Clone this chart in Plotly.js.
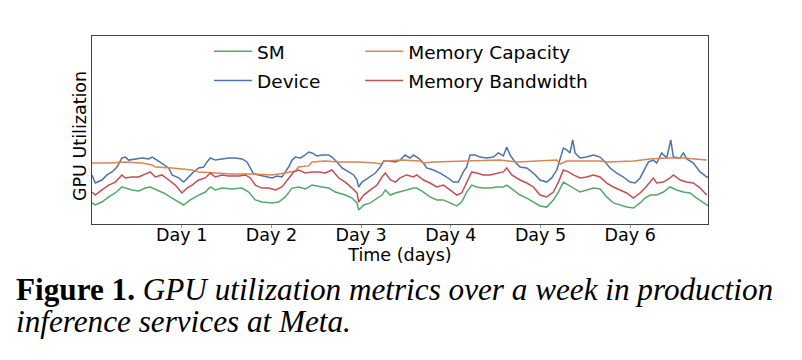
<!DOCTYPE html>
<html>
<head>
<meta charset="utf-8">
<script src="https://cdn.plot.ly/plotly-3.0.1.min.js"></script>
<style>html,body{margin:0;padding:0;background:#fff;}#chart{width:802px;height:360px;}</style>
</head>
<body>
<div id="chart"></div>
<script>
// ---- data (x in days, y in % utilization) ----
var dayTicks = [1, 2, 3, 4, 5, 6];
var dayLabels = ['Day 1', 'Day 2', 'Day 3', 'Day 4', 'Day 5', 'Day 6'];

var deviceX = [0,0.037,0.111,0.167,0.223,0.279,0.334,0.372,0.409,0.483,0.557,0.632,0.669,0.725,0.780,0.855,0.892,0.966,1.022,1.078,1.133,1.189,1.245,1.282,1.319,1.375,1.449,1.524,1.598,1.672,1.728,1.765,1.802,1.858,1.932,2.007,2.062,2.118,2.155,2.192,2.230,2.267,2.323,2.378,2.415,2.453,2.508,2.564,2.638,2.676,2.731,2.787,2.861,2.917,2.954,2.973,3.010,3.084,3.159,3.214,3.252,3.307,3.382,
3.434,3.490,3.545,3.583,3.638,3.694,3.731,3.806,3.880,3.954,4.029,4.084,4.140,4.177,4.214,4.270,4.326,4.400,4.475,4.530,4.586,4.623,4.660,4.716,4.772,4.846,4.920,4.995,5.069,5.125,5.181,5.218,5.255,5.292,5.329,5.359,5.385,5.441,5.515,5.590,5.664,5.720,5.775,5.850,5.924,5.998,6.054,6.110,6.165,6.203,6.258,6.295,6.351,6.407,6.452,6.481,6.556,6.593,6.630,6.704,6.779,6.853,6.890];
var deviceY = [26.1,21.8,23.4,26.1,27.7,30.3,35.1,35.6,34.0,34.6,35.1,34.6,35.6,34.0,32.4,29.8,26.1,24.5,22.3,25.0,27.7,29.8,30.3,33.0,35.1,34.0,34.6,35.1,35.1,34.6,33.0,29.8,26.6,26.1,25.5,24.5,25.5,25.0,27.7,30.3,34.0,35.6,35.1,36.7,38.3,37.8,36.2,36.7,36.7,35.6,33.0,29.8,27.7,26.1,23.4,19.7,22.3,24.5,27.1,30.3,33.5,33.5,33.0,
34.0,36.7,35.1,36.7,35.1,32.4,29.8,28.7,27.1,25.0,22.3,22.3,27.7,30.3,36.7,36.7,35.6,35.1,35.6,37.8,36.2,41.0,36.7,33.0,30.3,29.8,27.1,23.4,22.3,24.5,28.7,35.1,40.4,39.4,37.8,44.7,37.8,35.1,35.6,36.7,35.6,33.0,29.8,27.1,25.0,22.3,21.8,24.5,29.8,33.0,34.0,32.4,37.8,35.1,44.7,35.6,35.1,37.8,34.6,32.4,27.7,25.0,25.0];

var bwX = [0,0.037,0.111,0.186,0.260,0.334,0.372,0.446,0.520,0.595,0.650,0.706,0.780,0.855,0.929,1.003,1.059,1.115,1.189,1.263,1.319,1.375,1.449,1.524,1.635,1.709,1.765,1.821,1.895,1.970,2.044,2.118,2.192,2.248,2.304,2.378,2.453,2.527,2.601,2.676,2.750,2.824,2.899,2.954,2.973,3.029,3.103,3.177,3.233,3.270,3.326,3.382,
3.434,3.508,3.583,3.620,3.694,3.768,3.843,3.917,3.991,4.066,4.121,4.177,4.233,4.289,4.363,4.437,4.512,4.586,4.623,4.679,4.772,4.846,4.920,4.995,5.069,5.143,5.199,5.255,5.311,5.366,5.441,5.515,5.590,5.664,5.738,5.812,5.887,5.961,6.035,6.110,6.165,6.221,6.258,6.295,6.370,6.444,6.481,6.556,6.630,6.704,6.779,6.853];
var bwY = [17.0,15.4,18.1,20.7,22.3,26.1,24.5,25.0,25.0,26.6,27.7,25.0,26.1,23.4,20.7,16.5,19.1,20.7,23.4,24.5,27.1,25.0,26.1,25.5,25.5,26.1,24.5,20.7,19.1,19.1,18.1,19.7,24.5,27.7,28.7,27.1,27.7,27.7,27.1,28.7,24.5,22.3,19.1,16.5,11.7,15.4,18.1,20.7,25.0,27.1,23.4,22.3,
24.5,26.1,25.0,26.1,23.4,21.8,19.7,20.7,18.1,15.4,16.5,21.8,27.7,27.1,26.1,26.1,27.1,27.7,29.8,26.1,23.4,21.8,19.7,15.4,14.4,17.0,22.3,28.7,27.7,26.1,24.5,25.0,26.1,25.0,21.8,19.7,18.1,16.5,13.8,16.5,19.1,22.3,24.5,21.8,22.3,24.5,26.1,23.4,22.3,21.8,19.1,15.4];

var smX = [0,0.037,0.111,0.186,0.260,0.334,0.372,0.446,0.520,0.595,0.650,0.725,0.799,0.892,0.966,1.022,1.096,1.189,1.263,1.319,1.375,1.449,1.561,1.672,1.747,1.821,1.895,2.007,2.081,2.155,2.230,2.304,2.378,2.453,2.564,2.638,2.713,2.824,2.899,2.954,2.973,3.029,3.103,3.177,3.233,3.270,3.326,3.382,
3.434,3.508,3.583,3.620,3.694,3.768,3.843,3.917,3.991,4.066,4.121,4.177,4.233,4.289,4.363,4.437,4.512,4.586,4.623,4.698,4.772,4.846,4.920,4.995,5.069,5.143,5.199,5.255,5.311,5.366,5.441,5.515,5.590,5.664,5.738,5.812,5.887,5.961,6.035,6.110,6.165,6.221,6.295,6.370,6.444,6.518,6.593,6.667,6.741,6.816,6.871];
var smY = [11.2,10.1,11.7,14.4,16.5,19.7,19.1,18.1,17.6,19.1,19.7,18.1,16.5,13.8,11.7,10.1,12.8,15.4,17.0,19.7,18.1,19.1,18.6,19.1,17.0,12.8,11.7,11.2,11.7,14.4,19.1,19.7,18.6,20.7,19.7,19.1,17.0,15.4,13.8,11.2,7.4,10.1,11.2,13.8,15.4,18.1,15.4,16.5,
17.0,18.1,19.1,19.1,17.0,14.4,12.8,12.8,11.2,9.6,11.7,17.0,20.7,19.7,19.1,19.1,19.7,19.7,20.7,18.1,15.4,13.8,11.7,9.6,9.0,12.8,17.0,22.3,20.7,19.1,17.0,18.1,19.1,18.6,14.4,11.2,10.1,9.0,8.5,11.2,13.8,15.4,15.4,17.0,19.7,18.1,17.0,16.5,13.8,11.2,9.6];

var capX = [0,0.186,0.372,0.557,0.669,0.706,0.892,1.115,1.189,1.338,1.561,1.784,2.007,2.155,2.267,2.304,2.415,2.453,2.601,2.750,2.973,3.159,3.214,3.270,3.456,3.657,3.694,3.806,4.177,4.549,4.735,4.920,5.181,5.218,5.292,5.664,5.738,6.035,6.221,6.407,6.593,6.853];
var capY = [32.4,32.4,33.0,32.4,31.4,30.3,29.8,28.7,27.7,27.1,26.6,26.6,26.1,27.1,28.2,30.3,30.9,33.0,33.5,33.0,33.0,32.4,31.9,33.5,34.0,33.5,32.4,33.0,33.5,34.0,33.0,33.5,34.0,31.9,33.5,33.5,33.0,33.5,34.6,35.1,35.1,34.0];

var traces = [
  {x: smX, y: smY, name: 'SM', type: 'scatter', mode: 'lines', line: {color: '#55a868', width: 1.5}, legend: 'legend', legendgroup: 'a'},
  {x: deviceX, y: deviceY, name: 'Device', type: 'scatter', mode: 'lines', line: {color: '#4c72b0', width: 1.5}, legend: 'legend', legendgroup: 'b'},
  {x: capX, y: capY, name: 'Memory Capacity', type: 'scatter', mode: 'lines', line: {color: '#dd8452', width: 1.5}, legend: 'legend2', legendgroup: 'c'},
  {x: bwX, y: bwY, name: 'Memory Bandwidth', type: 'scatter', mode: 'lines', line: {color: '#c44e52', width: 1.5}, legend: 'legend2', legendgroup: 'd'}
];

var sans = 'DejaVu Sans, sans-serif';
var layout = {
  width: 802, height: 360,
  margin: {l: 92, r: 94, t: 36, b: 136},
  paper_bgcolor: '#fff', plot_bgcolor: '#fff',
  showlegend: true,
  xaxis: {
    range: [0, 6.867], tickmode: 'array', tickvals: dayTicks, ticktext: dayLabels,
    showline: true, mirror: true, linecolor: '#444', linewidth: 1,
    ticks: 'outside', ticklen: 3, tickcolor: '#999', showgrid: false, zeroline: false,
    ticklabelstandoff: -8,
    tickfont: {family: sans, size: 17.5, color: '#000'},
    title: {text: 'Time (days)', font: {family: sans, size: 17.5, color: '#000'}, standoff: 2}
  },
  yaxis: {
    range: [0, 100], showticklabels: false, ticks: '', showgrid: false, zeroline: false,
    showline: true, mirror: true, linecolor: '#444', linewidth: 1
  },
  legend: {x: 0.190, y: 1.017, xanchor: 'left', yanchor: 'top', traceorder: 'grouped', tracegroupgap: 2, itemwidth: 38,
    bgcolor: 'rgba(0,0,0,0)', font: {family: sans, size: 18.5, color: '#000'}},
  legend2: {x: 0.4354, y: 1.017, xanchor: 'left', yanchor: 'top', traceorder: 'grouped', tracegroupgap: 2, itemwidth: 38,
    bgcolor: 'rgba(0,0,0,0)', font: {family: sans, size: 18.5, color: '#000'}},
  annotations: [
    {text: 'GPU Utilization', xref: 'paper', yref: 'paper', x: -0.0195, y: 0.468, xanchor: 'center', yanchor: 'middle',
     textangle: -90, showarrow: false, font: {family: sans, size: 17.5, color: '#000'}},
    {text: '<b>Figure 1.</b> <i>GPU utilization metrics over a week in production</i>', xref: 'paper', yref: 'paper',
     x: -0.1266, y: -0.346, xanchor: 'left', yanchor: 'middle', showarrow: false, align: 'left',
     font: {family: 'Liberation Serif, serif', size: 31.2, color: '#000'}},
    {text: '<i>inference services at Meta.</i>', xref: 'paper', yref: 'paper',
     x: -0.1266, y: -0.521, xanchor: 'left', yanchor: 'middle', showarrow: false, align: 'left',
     font: {family: 'Liberation Serif, serif', size: 31.2, color: '#000'}}
  ]
};

Plotly.newPlot('chart', traces, layout, {displayModeBar: false, staticPlot: true});
</script>
</body>
</html>
